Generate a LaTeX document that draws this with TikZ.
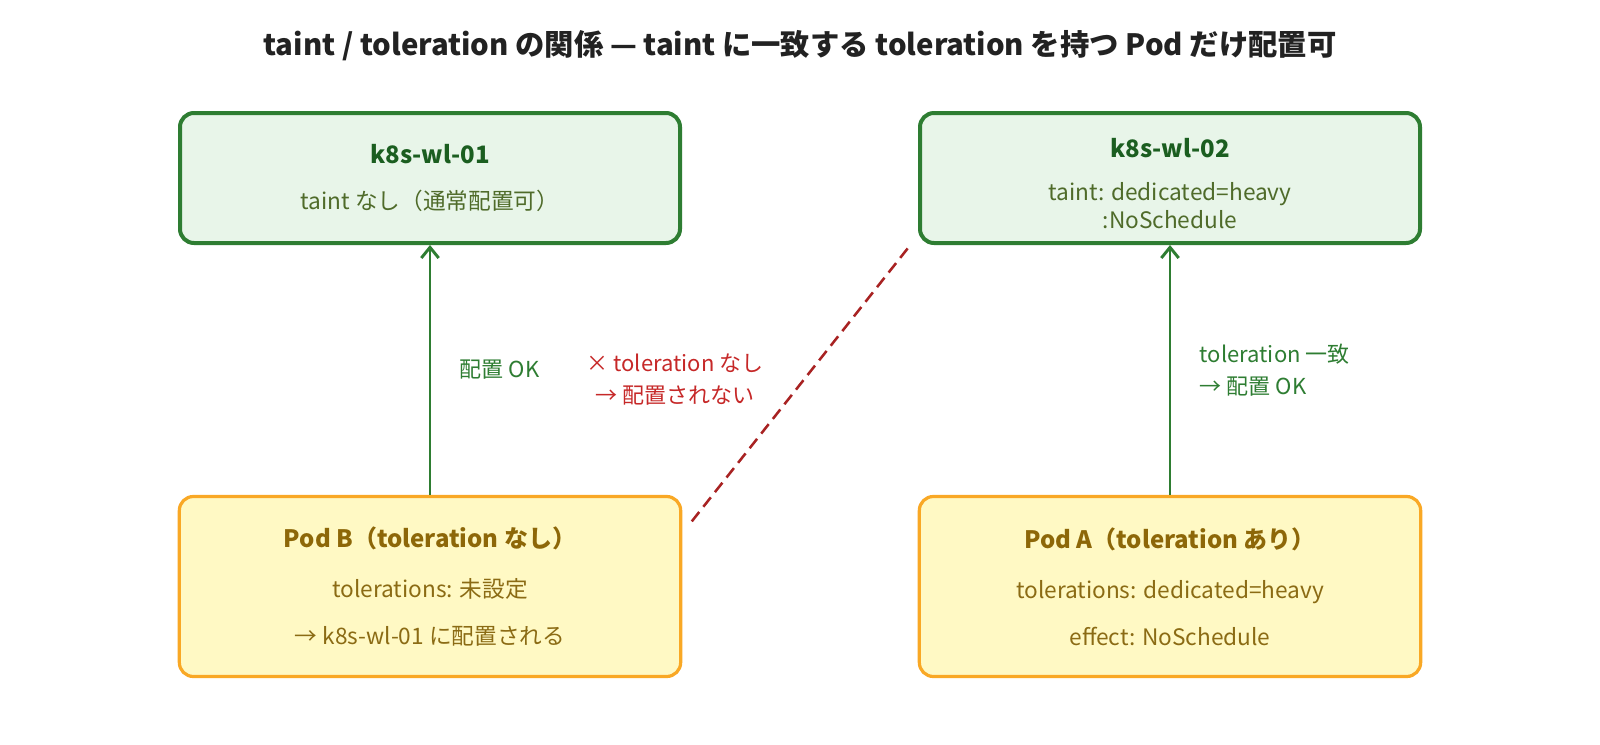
\documentclass[tikz,border=0pt]{standalone}
\usepackage{fontspec}
\setmainfont{Noto Sans CJK JP}
\usetikzlibrary{arrows.meta}

\definecolor{wlline}{HTML}{2E7D32}
\definecolor{wlfill}{HTML}{E8F5E9}
\definecolor{wlhead}{HTML}{1B5E20}
\definecolor{wltext}{HTML}{4F6B2A}
\definecolor{podline}{HTML}{F9A825}
\definecolor{podfill}{HTML}{FFF9C4}
\definecolor{podhead}{HTML}{8D6708}
\definecolor{podtext}{HTML}{8B6B14}
\definecolor{okgreen}{HTML}{2E7D32}
\definecolor{ngred}{HTML}{C62828}
\definecolor{titlegray}{HTML}{222222}

\begin{document}
\begin{tikzpicture}[x=0.75pt,y=-0.75pt,
  wlbox/.style={draw=wlline, fill=wlfill, line width=3pt, rounded corners=10.5pt,
    minimum width=375pt, minimum height=97.5pt, align=center, text=wltext,
    font=\fontsize{17}{20}\selectfont},
  podbox/.style={draw=podline, fill=podfill, line width=2.4pt, rounded corners=10.5pt,
    minimum width=376pt, minimum height=135pt, align=center, text=podtext,
    font=\fontsize{17}{20}\selectfont},
  okarrow/.style={draw=okgreen, line width=2.2pt, -{Straight Barb[length=8pt,width=13pt]}},
  ngline/.style={draw=ngred!85!black, line width=1.9pt, dash pattern=on 9pt off 5pt},
  oklabel/.style={text=okgreen, font=\fontsize{16.5}{24}\selectfont},
  nglabel/.style={text=ngred, align=center, font=\fontsize{16.5}{24}\selectfont}
]
  \useasboundingbox[fill=white] (0,0) rectangle (1600,744);

  \node[text=titlegray, font=\fontsize{22}{26}\selectfont\bfseries] (title) at (800,46)
    {taint / toleration の関係 — taint に一致する toleration を持つ Pod だけ配置可};

  % nodes
  \node[wlbox] (wl01) at (430,178)
    {{\color{wlhead}\fontsize{18}{20}\selectfont\bfseries k8s-wl-01}\\[14pt]
     taint なし（通常配置可）};
  \node[wlbox] (wl02) at (1170,178)
    {\rule{0pt}{23pt}{\color{wlhead}\fontsize{18}{20}\selectfont\bfseries k8s-wl-02}\\[12pt]
     taint: dedicated=heavy\\[1.5pt]
     :NoSchedule};

  % pods
  \node[podbox] (podB) at (430,586.5)
    {{\color{podhead}\fontsize{18}{20}\selectfont\bfseries Pod B（toleration なし）}\\[17.5pt]
     tolerations: 未設定\\[15pt]
     → k8s-wl-01 に配置される};
  \node[podbox] (podA) at (1170,586.5)
    {{\color{podhead}\fontsize{18}{20}\selectfont\bfseries Pod A（toleration あり）}\\[17.5pt]
     tolerations: dedicated=heavy\\[15pt]
     effect: NoSchedule};

  % edges
  \draw[okarrow] (podB) -- node[oklabel, midway, right=18pt] (okB) {配置 OK} (wl01);
  \draw[okarrow] (podA) -- node[oklabel, midway, right=18pt, align=left] (okA)
    {toleration 一致\\→ 配置 OK} (wl02);
  \draw[ngline] ([shift={(9.5,26.5)}]podB.north east) -- ([shift={(-10,3)}]wl02.south west);
  \node[nglabel] (ngB) at (675,380) {× toleration なし\\→ 配置されない};
\end{tikzpicture}
\end{document}
